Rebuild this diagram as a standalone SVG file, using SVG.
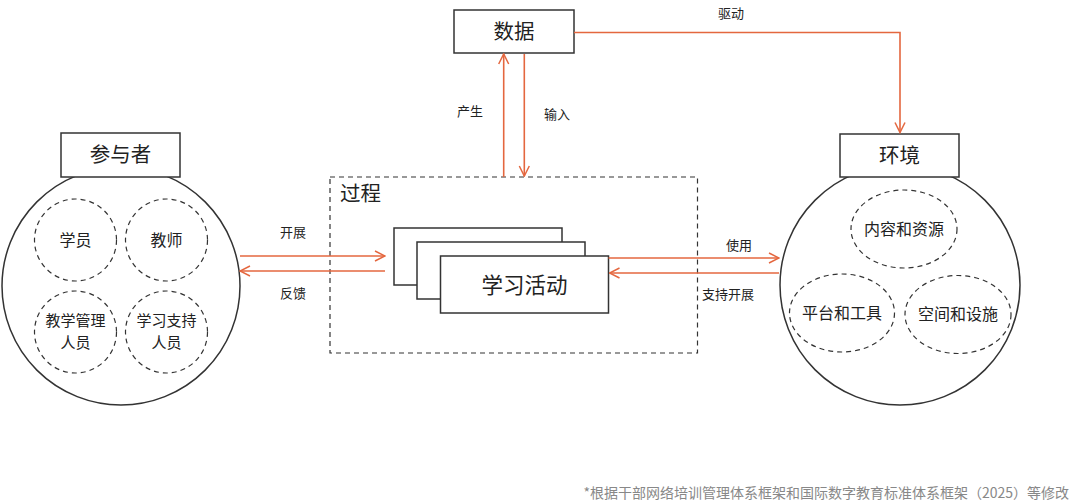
<svg xmlns="http://www.w3.org/2000/svg" width="1080" height="502" viewBox="0 0 1080 502">
<defs>
<marker id="ah" viewBox="0 0 12 12" refX="11" refY="6" markerWidth="12" markerHeight="12" markerUnits="userSpaceOnUse" orient="auto">
<path d="M1,1 L11,6 L1,11" fill="none" stroke="#E4673F" stroke-width="1.5"/>
</marker>
</defs>
<style>
text{font-family:"Noto Sans CJK SC","Noto Sans",sans-serif;fill:#222;}
.box{fill:#fff;stroke:#333;stroke-width:1.5;}
.big{fill:#fff;stroke:#333;stroke-width:1.5;}
.dash{fill:none;stroke:#333;stroke-width:1.2;stroke-dasharray:5 4;}
.edge{fill:none;stroke:#E4673F;stroke-width:1.6;}
.t20{font-size:20.5px;text-anchor:middle;}
.t14{font-size:16px;text-anchor:middle;}
.t2l{font-size:15px;text-anchor:middle;}
.lbl{font-size:13px;text-anchor:middle;}
</style>
<rect width="1080" height="502" fill="#fff"/>

<g id="participants">
<circle class="big" cx="121" cy="286" r="119"/>
<rect class="box" x="61" y="133" width="119" height="44"/>
<text class="t20" x="120.5" y="162">参与者</text>
<circle class="dash" cx="75.5" cy="240" r="41"/>
<text class="t14" x="75.5" y="245.5">学员</text>
<circle class="dash" cx="166.5" cy="240" r="41"/>
<text class="t14" x="166.5" y="245.5">教师</text>
<circle class="dash" cx="75.5" cy="332" r="41"/>
<text class="t2l" x="75.5" y="326">教学管理</text>
<text class="t2l" x="75.5" y="348">人员</text>
<circle class="dash" cx="166.5" cy="332" r="41"/>
<text class="t2l" x="166.5" y="326">学习支持</text>
<text class="t2l" x="166.5" y="348">人员</text>
</g>

<g id="process">
<rect class="dash" x="330" y="177" width="367.5" height="176"/>
<text x="340" y="201" style="font-size:20.5px">过程</text>
<rect class="box" x="394" y="228" width="168" height="57"/>
<rect class="box" x="417" y="242" width="168" height="57"/>
<rect class="box" x="440.5" y="256" width="168" height="57"/>
<text class="t20" x="524.5" y="292.5" style="font-size:21.5px">学习活动</text>
</g>

<g id="data">
<rect class="box" x="454" y="10" width="120" height="43"/>
<text class="t20" x="514" y="38.5">数据</text>
</g>

<g id="environment">
<circle class="big" cx="900" cy="285" r="120"/>
<rect class="box" x="840" y="134" width="119" height="43"/>
<text class="t20" x="899.5" y="162.5">环境</text>
<ellipse class="dash" cx="904" cy="229" rx="53" ry="39"/>
<text class="t14" x="904" y="234.5">内容和资源</text>
<ellipse class="dash" cx="842" cy="313" rx="52.5" ry="39"/>
<text class="t14" x="842" y="318.5">平台和工具</text>
<ellipse class="dash" cx="958" cy="314.5" rx="53" ry="39"/>
<text class="t14" x="958" y="320">空间和设施</text>
</g>

<g id="connectors">
<line class="edge" x1="240" y1="256" x2="385" y2="256" marker-end="url(#ah)"/>
<line class="edge" x1="385" y1="271" x2="240" y2="271" marker-end="url(#ah)"/>
<line class="edge" x1="503.7" y1="177" x2="503.7" y2="54" marker-end="url(#ah)"/>
<line class="edge" x1="524.3" y1="54" x2="524.3" y2="176" marker-end="url(#ah)"/>
<polyline class="edge" points="574,32.5 900,32.5 900,132.5" marker-end="url(#ah)"/>
<line class="edge" x1="608.5" y1="258" x2="779" y2="258" marker-end="url(#ah)"/>
<line class="edge" x1="779" y1="273" x2="609.5" y2="273" marker-end="url(#ah)"/>
<text class="lbl" x="293" y="237">开展</text>
<text class="lbl" x="293" y="298">反馈</text>
<text class="lbl" x="470" y="116">产生</text>
<text class="lbl" x="557" y="119">输入</text>
<text class="lbl" x="731" y="18">驱动</text>
<text class="lbl" x="739" y="250">使用</text>
<text class="lbl" x="728" y="299">支持开展</text>
</g>

<text x="1069" y="498" style="font-size:14px;text-anchor:end;fill:#888">*根据干部网络培训管理体系框架和国际数字教育标准体系框架（2025）等修改</text>
</svg>
